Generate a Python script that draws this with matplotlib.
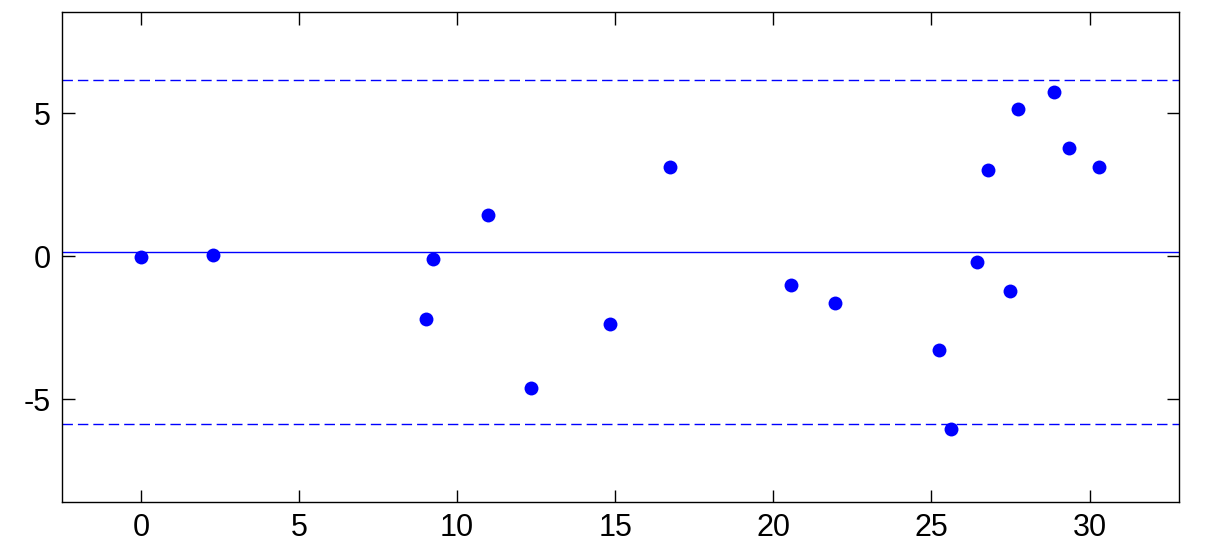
import numpy as np
import matplotlib
matplotlib.use('Agg')
import matplotlib.pyplot as plt

# data
x_vals = [0.0, 2.28, 9.02, 9.24, 10.98, 12.34, 14.83, 16.74, 20.57, 21.96,
          25.25, 25.63, 26.45, 26.79, 27.49, 27.75, 28.87, 29.36, 30.30]
y_vals = [-0.02, 0.05, -2.18, -0.09, 1.43, -4.60, -2.37, 3.11, -1.02, -1.65,
          -3.29, -6.05, -0.21, 3.01, -1.22, 5.14, 5.73, 3.78, 3.11]
mean_line = 0.14
upper_limit = 6.15
lower_limit = -5.87
x_ticks = [0, 5, 10, 15, 20, 25, 30]
y_ticks = [-5, 0, 5]

plt.rcParams['font.family'] = ['Liberation Sans', 'DejaVu Sans']
plt.rcParams['axes.unicode_minus'] = False

fig = plt.figure(figsize=(12.1, 5.43), dpi=100)
ax = fig.add_axes([0.0512, 0.0761, 0.9232, 0.9019])

ax.plot(x_vals, y_vals, 'o', color='blue', markersize=10, markeredgewidth=0)
ax.axhline(mean_line, color='blue', linewidth=1)
ax.axhline(upper_limit, color='blue', linewidth=1, linestyle=(0, (7.5, 3.6)))
ax.axhline(lower_limit, color='blue', linewidth=1, linestyle=(0, (7.5, 3.6)))

ax.set_xlim(-2.5, 32.83)
ax.set_ylim(-8.58, 8.54)
ax.set_xticks(x_ticks)
ax.set_yticks(y_ticks)
ax.tick_params(direction='in', length=9, width=1, top=True, right=True,
               labelsize=22, pad=8)
for s in ax.spines.values():
    s.set_linewidth(1)

fig.savefig('out.png', dpi=100)
